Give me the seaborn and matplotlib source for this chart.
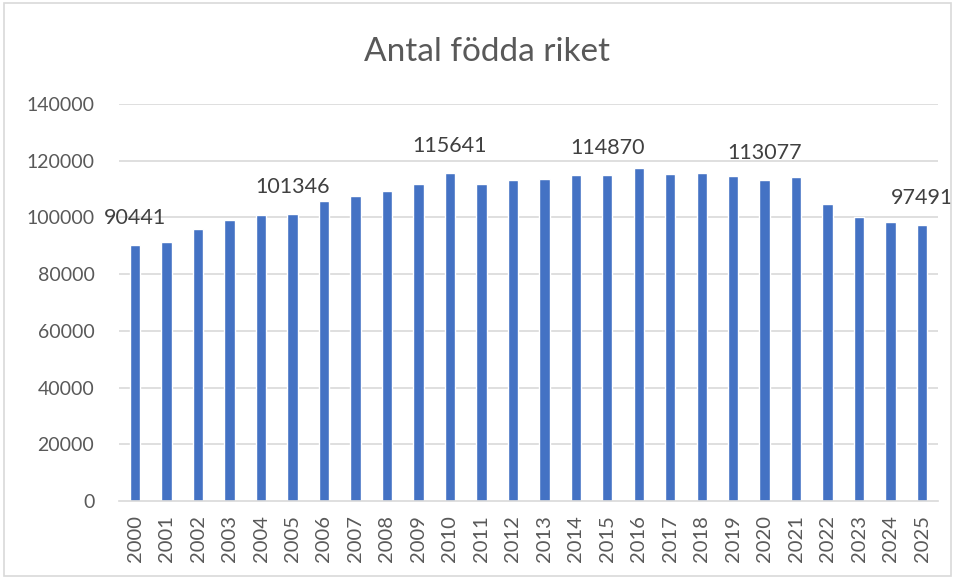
import matplotlib
matplotlib.use("Agg")
import matplotlib.pyplot as plt
import seaborn as sns
import pandas as pd
from matplotlib.patches import Rectangle

# Antal födda per år i riket
years = [str(y) for y in range(2000, 2026)]
births = [90441, 91466, 95815, 99157, 100928, 101346, 105913, 107421, 109301, 111801,
          115641, 111770, 113177, 113593, 114907, 114870, 117425, 115416, 115832, 114523,
          113077, 114263, 104734, 100051, 98500, 97491]
labelled_years = ["2000", "2005", "2010", "2015", "2020", "2025"]
y_ticks = [0, 20000, 40000, 60000, 80000, 100000, 120000, 140000]

df = pd.DataFrame({"year": years, "births": births})

sns.set_theme(style="white")
plt.rcParams["font.family"] = ["Lato", "DejaVu Sans"]

fig = plt.figure(figsize=(9.55, 5.78), dpi=100)
ax = fig.add_axes([0.125, 0.133, 0.857, 0.687])

sns.barplot(data=df, x="year", y="births", color="#4472C4", width=0.33,
            saturation=1, ax=ax)

ax.set_ylim(0, 140000)
ax.set_xlim(-0.5, len(years) - 0.5)
ax.set_yticks(y_ticks)
ax.set_yticklabels([str(t) for t in y_ticks], fontsize=14, color="#595959")
ax.tick_params(axis="x", labelrotation=90, labelsize=14.5, labelcolor="#595959",
               length=0, pad=10)
ax.tick_params(axis="y", length=0, pad=18)
ax.set_xlabel("")
ax.set_ylabel("")

for t in y_ticks[1:]:
    ax.axhline(t, color="#D9D9D9", lw=1.2, zorder=0)
ax.set_axisbelow(True)
for side in ["top", "right", "left"]:
    ax.spines[side].set_visible(False)
ax.spines["bottom"].set_color("#D9D9D9")
ax.spines["bottom"].set_linewidth(1.2)

# värdeetiketter för vart femte år
for i, (yr, v) in enumerate(zip(years, births)):
    if yr in labelled_years:
        ax.text(i, v + 6000, str(v), ha="center", va="bottom", fontsize=15.5, color="#404040")

fig.text(0.51, 0.91, "Antal födda riket", ha="center", va="center",
         fontsize=24, color="#595959")

# ram runt diagramytan
fig.patches.append(Rectangle((0.004, 0.004), 0.992, 0.99, transform=fig.transFigure,
                             fill=False, edgecolor="#D9D9D9", lw=1.2))

fig.savefig("out.png", dpi=100)
